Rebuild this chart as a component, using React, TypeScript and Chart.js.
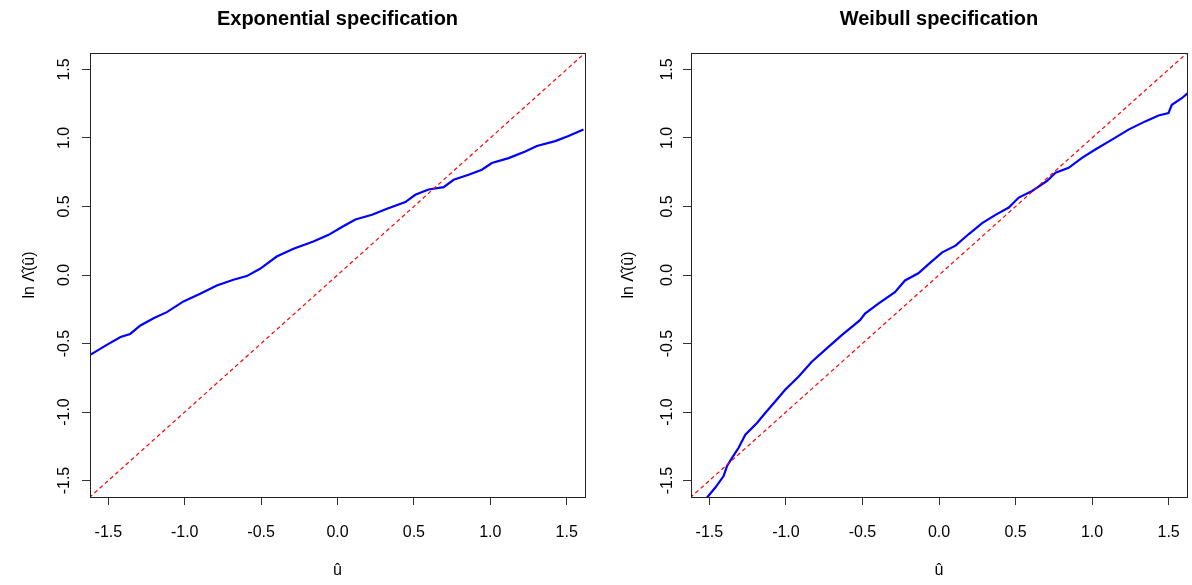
import React, { useEffect, useRef } from 'react';
import { Chart, registerables } from 'chart.js';

Chart.register(...registerables);

// ---- data ----
const TICKS = [-1.5, -1.0, -0.5, 0.0, 0.5, 1.0, 1.5];
const AXIS_MIN = -1.62;
const AXIS_MAX = 1.62;
const REF_U = [-2, 2];

const EXP_U = [-1.619, -1.51, -1.42, -1.357, -1.29, -1.204, -1.117, -1.008, -0.899, -0.79, -0.681, -0.594, -0.507, -0.398, -0.288, -0.158, -0.058, 0.029, 0.117, 0.226, 0.324, 0.444, 0.509, 0.596, 0.695, 0.76, 0.858, 0.945, 1.01, 1.12, 1.229, 1.305, 1.425, 1.512, 1.61];
const EXP_LNL = [-0.583, -0.51, -0.453, -0.43, -0.368, -0.315, -0.271, -0.193, -0.137, -0.077, -0.035, -0.008, 0.045, 0.135, 0.191, 0.245, 0.293, 0.35, 0.405, 0.44, 0.483, 0.532, 0.585, 0.624, 0.641, 0.695, 0.731, 0.768, 0.817, 0.853, 0.901, 0.941, 0.977, 1.014, 1.062];

const WEI_U = [-1.515, -1.461, -1.407, -1.385, -1.352, -1.309, -1.265, -1.189, -1.135, -1.07, -1.005, -0.918, -0.831, -0.722, -0.635, -0.516, -0.483, -0.396, -0.288, -0.222, -0.135, -0.066, 0.021, 0.108, 0.195, 0.282, 0.369, 0.456, 0.521, 0.608, 0.706, 0.761, 0.847, 0.934, 1.021, 1.13, 1.238, 1.347, 1.434, 1.499, 1.521, 1.586, 1.625];
const WEI_LNL = [-1.624, -1.551, -1.467, -1.395, -1.334, -1.261, -1.165, -1.08, -1.007, -0.923, -0.838, -0.742, -0.633, -0.524, -0.439, -0.33, -0.282, -0.209, -0.125, -0.04, 0.013, 0.081, 0.165, 0.214, 0.299, 0.379, 0.439, 0.492, 0.565, 0.613, 0.686, 0.746, 0.782, 0.855, 0.916, 0.988, 1.061, 1.121, 1.164, 1.181, 1.242, 1.29, 1.327];

const TITLE_EXP = 'Exponential specification';
const TITLE_WEI = 'Weibull specification';
const X_LABEL = 'û';
const Y_LABEL = 'ln Λ̂(û)';

const FONT = 'Liberation Sans, Arial, Helvetica, sans-serif';

const boxPlugin = {
  id: 'plotBox',
  afterDraw(chart: any) {
    const { ctx, chartArea: a } = chart;
    ctx.save();
    ctx.strokeStyle = '#222';
    ctx.lineWidth = 1;
    ctx.strokeRect(Math.round(a.left) + 0.5, Math.round(a.top) + 0.5, Math.round(a.right - a.left), Math.round(a.bottom - a.top));
    ctx.restore();
  },
};

function Panel(props: { title: string; u: number[]; lnl: number[]; left: number; axisW: number; padR: number; yTickPad: number; yTitlePad: number }) {
  const ref = useRef<HTMLCanvasElement | null>(null);
  useEffect(() => {
    if (!ref.current) return;
    const pts = props.u.map((v, i) => ({ x: v, y: props.lnl[i] }));
    const refPts = REF_U.map((v) => ({ x: v, y: v }));
    const tickCb = (v: any) => Number(v).toFixed(1);
    const setTicks = (s: any) => {
      s.ticks = TICKS.map((v) => ({ value: v }));
    };
    const chart = new Chart(ref.current, {
      type: 'line',
      data: {
        datasets: [
          {
            data: refPts,
            borderColor: '#ff0000',
            borderWidth: 1.2,
            borderDash: [4, 3],
            pointRadius: 0,
            tension: 0,
            clip: 0,
          } as any,
          {
            data: pts,
            borderColor: '#0000ff',
            borderWidth: 2.2,
            pointRadius: 0,
            tension: 0,
            clip: 0,
          } as any,
        ],
      },
      options: {
        animation: false,
        responsive: false,
        devicePixelRatio: 1,
        layout: { padding: { left: 0, right: props.padR, top: 0, bottom: 0 } },
        plugins: {
          legend: { display: false },
          tooltip: { enabled: false },
          title: {
            display: true,
            text: props.title,
            fullSize: false,
            color: '#000',
            font: { family: FONT, size: 20, weight: 'bold', lineHeight: 1.2 },
            padding: { top: 7.5, bottom: 21.5 },
          } as any,
        },
        scales: {
          x: {
            type: 'linear',
            min: AXIS_MIN,
            max: AXIS_MAX,
            afterBuildTicks: setTicks,
            afterFit: (s: any) => {
              s.height = 88;
              s.paddingLeft = 0;
              s.paddingRight = 0;
            },
            border: { display: false },
            grid: { display: true, drawOnChartArea: false, drawTicks: true, tickLength: 8, color: '#333', lineWidth: 1 },
            ticks: { color: '#000', font: { family: FONT, size: 16 }, padding: 18, maxRotation: 0, callback: tickCb },
            title: { display: true, text: X_LABEL, color: '#000', font: { family: FONT, size: 16 }, padding: { top: 0, bottom: 4.5 } },
          },
          y: {
            type: 'linear',
            min: AXIS_MIN,
            max: AXIS_MAX,
            afterBuildTicks: setTicks,
            afterFit: (s: any) => {
              s.width = props.axisW;
              s.paddingTop = 0;
              s.paddingBottom = 0;
            },
            border: { display: false },
            grid: { display: true, drawOnChartArea: false, drawTicks: true, tickLength: 8, color: '#333', lineWidth: 1 },
            ticks: { color: '#000', font: { family: FONT, size: 16 }, padding: props.yTickPad, minRotation: 90, maxRotation: 90, crossAlign: 'center', callback: tickCb },
            title: { display: true, text: Y_LABEL, color: '#000', font: { family: FONT, size: 16 }, padding: { top: props.yTitlePad, bottom: 0 } },
          } as any,
        },
      },
      plugins: [boxPlugin],
    });
    return () => chart.destroy();
  }, []);
  return (
    <div style={{ position: 'absolute', left: props.left, top: 0, width: 596, height: 585 }}>
      <canvas ref={ref} width={596} height={585} style={{ width: 596, height: 585, display: 'block' }} />
    </div>
  );
}

export default function App() {
  return (
    <div style={{ position: 'absolute', left: 0, top: 0, width: 1192, height: 585, background: '#fff', overflow: 'hidden' }}>
      <Panel title={TITLE_EXP} u={EXP_U} lnl={EXP_LNL} left={0} axisW={90} padR={11} yTickPad={4} yTitlePad={20} />
      <Panel title={TITLE_WEI} u={WEI_U} lnl={WEI_LNL} left={596} axisW={95} padR={5} yTickPad={2} yTitlePad={23} />
    </div>
  );
}
